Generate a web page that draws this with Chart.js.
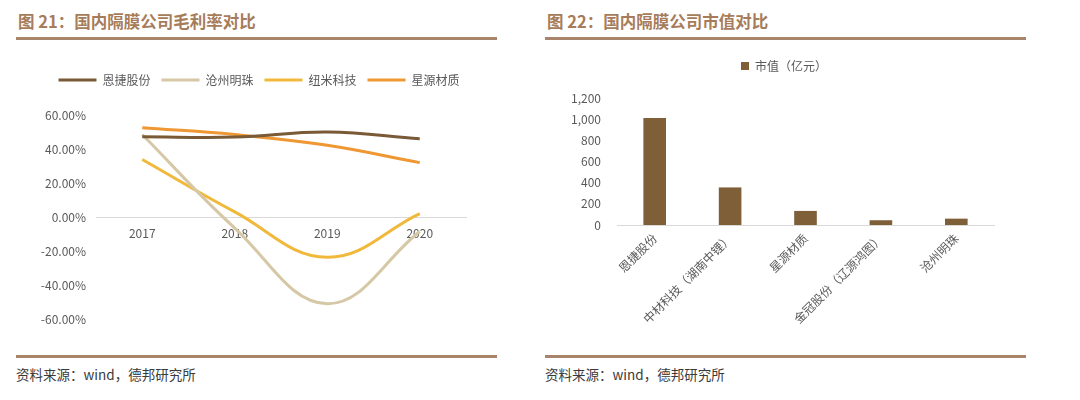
<!DOCTYPE html>
<html>
<head>
<meta charset="utf-8">
<script src="https://cdn.jsdelivr.net/npm/chart.js@4.4.1/dist/chart.umd.min.js"></script>
<style>
  body { margin: 0; width: 1080px; height: 400px; background: #fff; position: relative; overflow: hidden;
         font-family: "Noto Sans CJK SC", sans-serif; }
  .title { position: absolute; top: 9px; font-size: 16.5px; font-weight: bold; color: #a67c5a; white-space: nowrap; }
  .rule { position: absolute; height: 3px; background: #a8846a; }
  .source { position: absolute; top: 364px; font-size: 13.5px; color: #3a3a3a; white-space: nowrap; }
  .box { position: absolute; }
</style>
</head>
<body>
<div class="title" style="left:18px">图 21：国内隔膜公司毛利率对比</div>
<div class="rule" style="left:16px;width:481px;top:37px"></div>
<div class="rule" style="left:16px;width:481px;top:355px"></div>
<div class="source" style="left:16px">资料来源：wind，德邦研究所</div>

<div class="title" style="left:547px">图 22：国内隔膜公司市值对比</div>
<div class="rule" style="left:545px;width:481px;top:37px"></div>
<div class="rule" style="left:545px;width:481px;top:355px"></div>
<div class="source" style="left:545px">资料来源：wind，德邦研究所</div>

<div class="box" style="left:0;top:45px;width:520px;height:300px"><canvas id="marginChart"></canvas></div>
<div class="box" style="left:540px;top:45px;width:540px;height:305px"><canvas id="capChart"></canvas></div>

<script>
// gross margin, %
const years = ['2017', '2018', '2019', '2020'];
const enjie = [47.2, 47.0, 50.0, 46.0];
const cangzhou = [48.5, -6.5, -51.0, -8.5];
const numi = [33.8, 3.0, -23.7, 2.0];
const xingyuan = [52.5, 48.5, 42.2, 32.0];

// market cap, 100 million yuan
const companies = ['恩捷股份', '中材科技（湖南中锂）', '星源材质', '金冠股份（辽源鸿图）', '沧州明珠'];
const marketCap = [1010, 355, 133, 45, 60];

const font = { family: '"Noto Sans CJK SC", sans-serif', size: 12 };
const textColor = '#595959';

// push the plot down below the legend and nudge the legend sideways
function legendPlace(gap, shift) {
    return {
        id: 'legendPlace',
        beforeInit(chart) {
            const fit = chart.legend.fit;
            chart.legend.fit = function () {
                fit.call(this);
                this.height += gap;
            };
        },
        afterLayout(chart) {
            chart.legend.left += shift;
            chart.legend.right += shift;
        }
    };
}

function line(label, data, color) {
    return {
        label: label,
        data: data,
        borderColor: color,
        backgroundColor: color,
        borderWidth: 3,
        pointRadius: 0,
        tension: 0.4,
        fill: false
    };
}

new Chart(document.getElementById('marginChart'), {
    type: 'line',
    data: {
        labels: years,
        datasets: [
            line('恩捷股份', enjie, '#7a5a36'),
            line('沧州明珠', cangzhou, '#d6c8a6'),
            line('纽米科技', numi, '#f0b93c'),
            line('星源材质', xingyuan, '#ee9733')
        ]
    },
    plugins: [legendPlace(19, 26)],
    options: {
        responsive: true,
        maintainAspectRatio: false,
        animation: false,
        layout: { padding: { top: 18, right: 54, bottom: 26, left: 0 } },
        plugins: {
            legend: {
                position: 'top',
                labels: {
                    usePointStyle: true,
                    pointStyle: 'line',
                    pointStyleWidth: 38,
                    padding: 11,
                    color: textColor,
                    font: font
                }
            },
            tooltip: { enabled: false }
        },
        scales: {
            x: {
                offset: true,
                position: { y: 0 },
                grid: { display: false, drawTicks: false, offset: true },
                border: { display: true, color: '#d9d9d9', width: 1 },
                ticks: { color: textColor, font: font, padding: 9 }
            },
            y: {
                min: -60,
                max: 60,
                grid: { display: false, drawTicks: false },
                border: { display: false },
                afterFit: function (scale) { scale.width = 96; },
                ticks: {
                    stepSize: 20,
                    color: textColor,
                    font: font,
                    padding: 10,
                    callback: v => v.toFixed(2) + '%'
                }
            }
        }
    }
});

new Chart(document.getElementById('capChart'), {
    type: 'bar',
    data: {
        labels: companies,
        datasets: [{
            label: '市值（亿元）',
            data: marketCap,
            backgroundColor: '#7f5f38',
            categoryPercentage: 1,
            barPercentage: 0.3
        }]
    },
    plugins: [legendPlace(16, 17)],
    options: {
        responsive: true,
        maintainAspectRatio: false,
        animation: false,
        layout: { padding: { top: 5, right: 86, bottom: 5, left: 0 } },
        plugins: {
            legend: {
                position: 'top',
                labels: { boxWidth: 8, boxHeight: 8, padding: 10, color: textColor, font: font }
            },
            tooltip: { enabled: false }
        },
        scales: {
            x: {
                grid: { display: false, drawTicks: false },
                border: { display: true, color: '#d9d9d9', width: 1 },
                afterFit: function (scale) { scale.height = 120; },
                ticks: { color: textColor, font: font, padding: 6, minRotation: 45, maxRotation: 45, autoSkip: false }
            },
            y: {
                min: 0,
                max: 1200,
                grid: { display: false, drawTicks: false },
                border: { display: false },
                afterFit: function (scale) { scale.width = 77; },
                ticks: {
                    stepSize: 200,
                    color: textColor,
                    font: font,
                    padding: 16,
                    callback: v => v.toLocaleString('en-US')
                }
            }
        }
    }
});
</script>
</body>
</html>
